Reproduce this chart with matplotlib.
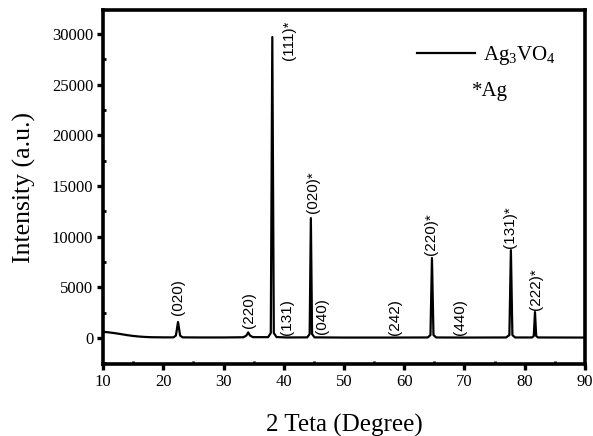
import matplotlib
matplotlib.use("Agg")
from matplotlib import pyplot as plt
from matplotlib.ticker import MultipleLocator
import numpy as np

# XRD pattern (2 theta, intensity)
two_theta = [10, 11, 12, 13, 14, 15, 16, 17, 18, 20,
             21.7, 22.1, 22.45, 22.8, 23.2,
             26, 30, 33.3, 33.8, 34.1, 34.4, 34.9,
             37.4, 37.85, 38.1, 38.35, 38.8,
             40.5, 43.9, 44.3, 44.5, 44.7, 45.1,
             50, 58, 63.9, 64.35, 64.6, 64.85, 65.3,
             70, 76.9, 77.45, 77.7, 77.95, 78.4,
             81.2, 81.5, 81.7, 81.9, 82.2, 90]
intensity = [620, 560, 480, 390, 290, 210, 150, 110, 85, 70,
             70, 250, 1580, 250, 70,
             60, 60, 80, 250, 560, 250, 90,
             90, 500, 29700, 500, 100,
             60, 70, 400, 11840, 400, 70,
             50, 50, 60, 300, 7900, 300, 60,
             50, 60, 300, 8680, 300, 60,
             60, 200, 2570, 200, 60, 50]

# peak labels: text, 2 theta, intensity where the label starts
hkl_text = ["(020)", "(220)", "(111)*", "(131)", "(020)*", "(040)",
            "(242)", "(220)*", "(440)", "(131)*", "(222)*"]
hkl_x = [22.4, 34.2, 40.8, 40.6, 44.9, 46.4, 58.5, 64.5, 69.3, 77.6, 81.8]
hkl_y = [2270, 990, 27430, 350, 12330, 450, 300, 8190, 300, 8880, 2760]

plt.rcParams['font.family'] = ['Liberation Serif', 'DejaVu Serif']
plt.rcParams['mathtext.fontset'] = 'custom'
plt.rcParams['mathtext.rm'] = 'Liberation Serif'

fig = plt.figure(figsize=(5.93, 4.36), dpi=100)
ax = fig.add_axes([0.1737, 0.1651, 0.8128, 0.8119])

ax.plot(two_theta, intensity, color='black', lw=1.6,
        label=r'Ag$_\mathrm{3}$VO$_\mathrm{4}$')

for t, x, y in zip(hkl_text, hkl_x, hkl_y):
    ax.text(x, y, t, rotation=90, ha='center', va='bottom',
            fontsize=11, family='Liberation Sans')

ax.set_xlim(10, 90)
ax.set_ylim(-2560, 32370)
ax.set_xticks(np.arange(10, 91, 10))
ax.set_yticks(np.arange(0, 30001, 5000))
ax.xaxis.set_minor_locator(MultipleLocator(5))
ax.yaxis.set_minor_locator(MultipleLocator(2500))

for side in ax.spines.values():
    side.set_linewidth(2.6)

ax.tick_params(which='major', direction='out', length=4, width=2.4,
               labelsize=12, pad=3)
ax.tick_params(which='minor', direction='in', length=2, width=2)

ax.set_xlabel('2 Teta (Degree)', fontsize=18)
ax.set_ylabel('Intensity (a.u.)', fontsize=18.5)
ax.xaxis.set_label_coords(0.5, -0.141)
ax.yaxis.set_label_coords(-0.139, 0.5)

ax.legend(loc='upper left', bbox_to_anchor=(0.635, 0.927), frameon=False,
          fontsize=15, handlelength=2.75, handletextpad=0.4,
          borderaxespad=0)
ax.text(0.766, 0.77, '*Ag', transform=ax.transAxes, fontsize=15,
        ha='left', va='center')

fig.savefig('out.png', dpi=100)
